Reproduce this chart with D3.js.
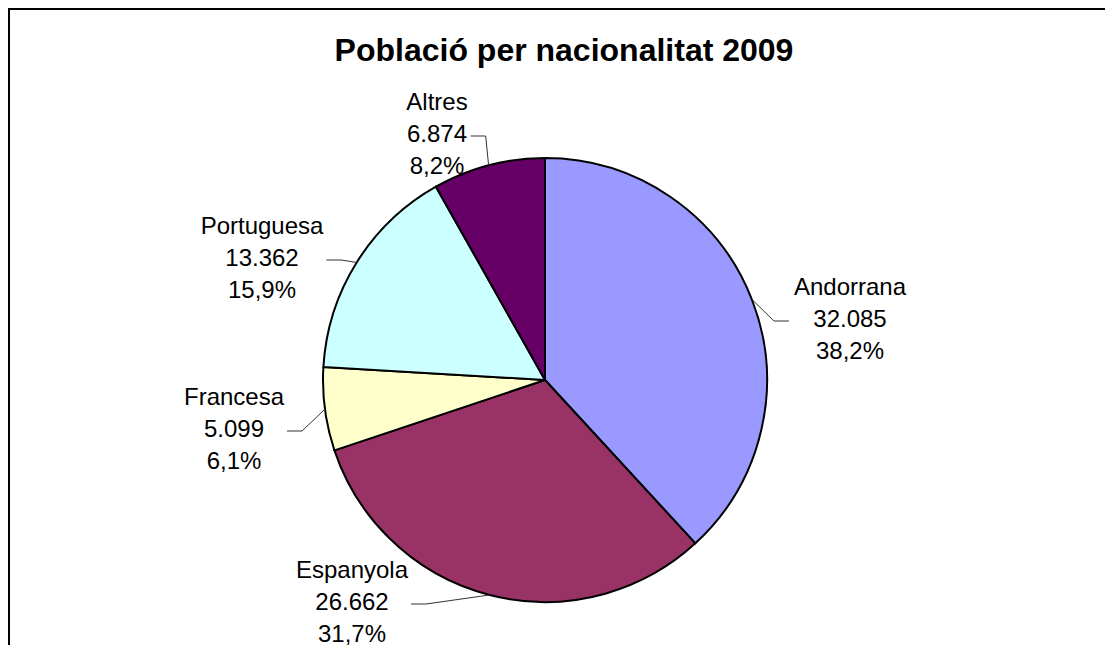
<!DOCTYPE html>
<html>
<head>
<meta charset="utf-8">
<script src="https://cdn.jsdelivr.net/npm/d3@7"></script>
<style>
  body { margin: 0; background: #fff; }
  svg { display: block; font-family: "Liberation Sans", Arial, sans-serif; }
</style>
</head>
<body>
<div id="chart"></div>
<script>
// ---------- data ----------
let categories = [ 'Andorrana', 'Espanyola', 'Francesa', 'Portuguesa', 'Altres' ];
let values     = [ 32085, 26662, 5099, 13362, 6874 ];
let colours    = [ '#9999FF', '#993366', '#FFFFCC', '#CCFFFF', '#660066' ];
let title      = 'Població per nacionalitat 2009';

// label block centres, relative to pie centre (layout only)
let labelShift = [ [305, -53], [-193, 230], [-311, 57], [-283, -114], [-108, -238] ];

// ---------- layout ----------
let width = 1105, height = 645;
let cx = 545, cy = 380, radius = 222;
let lineGap = 31.7;

let locale = d3.formatLocale({ decimal: ',', thousands: '.', grouping: [3], currency: ['', ''] });
let fmtValue = locale.format(',d');
let fmtPct = locale.format('.1f');
let total = d3.sum(values);

let svg = d3.select('#chart')
            .append('svg')
            .attr('width', width)
            .attr('height', height);

// chart border (runs off the window on the right and bottom)
svg.append('rect')
   .attr('x', 9).attr('y', 9)
   .attr('width', width + 20).attr('height', height + 20)
   .attr('fill', 'none')
   .attr('stroke', '#000')
   .attr('stroke-width', 2);

svg.append('text')
   .attr('x', 564).attr('y', 61)
   .attr('text-anchor', 'middle')
   .attr('font-size', 32)
   .attr('font-weight', 'bold')
   .text(title);

let pie = d3.pie().sort(null).value(d => d);
let arcs = pie(values);
let arc = d3.arc().innerRadius(0).outerRadius(radius);

let g = svg.append('g').attr('transform', 'translate(' + cx + ',' + cy + ')');

g.selectAll('path.slice')
 .data(arcs)
 .enter()
 .append('path')
 .attr('class', 'slice')
 .attr('d', arc)
 .attr('fill', (d, i) => colours[i])
 .attr('stroke', '#000')
 .attr('stroke-width', 2)
 .attr('stroke-linejoin', 'round');

// labels
let labels = g.selectAll('g.label')
              .data(arcs)
              .enter()
              .append('g')
              .attr('class', 'label');

labels.each(function (d, i) {
    let lab = d3.select(this);
    let lx = labelShift[i][0], ly = labelShift[i][1];
    let lines = [ categories[i], fmtValue(values[i]), fmtPct(values[i] / total * 100) + '%' ];

    let txt = lab.append('text')
                 .attr('text-anchor', 'middle')
                 .attr('font-size', 24)
                 .attr('fill', '#000');
    lines.forEach(function (s, k) {
        txt.append('tspan')
           .attr('x', lx)
           .attr('y', ly + (k - 1) * lineGap)
           .text(s);
    });

    // box width from the widest line
    let w = d3.max(txt.selectAll('tspan').nodes(), n => n.getComputedTextLength());

    // leader line: from label edge, short horizontal, then to the slice edge
    let a = (d.startAngle + d.endAngle) / 2;
    let ex = Math.sin(a) * radius, ey = -Math.cos(a) * radius;
    let hy = ly - 6;
    let x0, x1;
    if (lx > ex) { x0 = lx - w / 2 - 5; x1 = x0 - 15; }
    else         { x0 = lx + w / 2 + 3; x1 = x0 + 15; }

    lab.insert('path', 'text')
       .attr('d', d3.line()([ [x0, hy], [x1, hy], [ex, ey] ]))
       .attr('fill', 'none')
       .attr('stroke', '#333')
       .attr('stroke-width', 1);
});
</script>
</body>
</html>
